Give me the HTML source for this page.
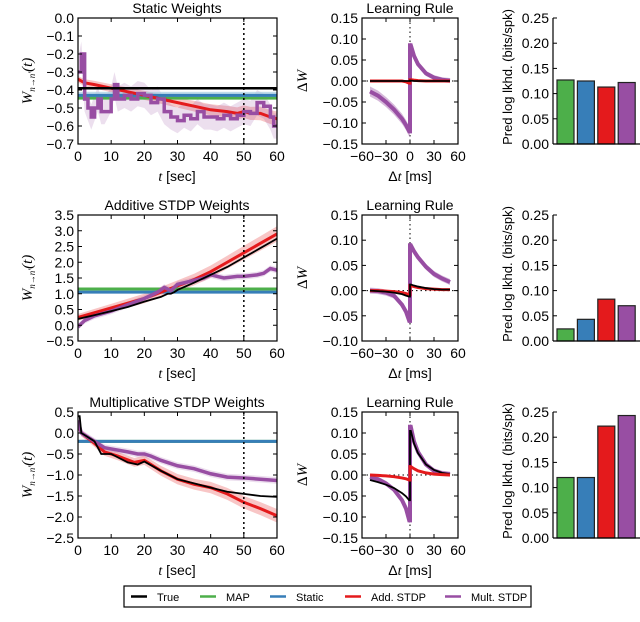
<!DOCTYPE html>
<html><head><meta charset="utf-8"><style>
body{margin:0;background:#fff;}
svg{display:block;font-family:"Liberation Sans",sans-serif;}
</style></head><body>
<svg id="fig" width="640" height="622" viewBox="0 0 640 622"></svg>
<script>
// ---- data ----
const bandTicks=[0,10,20,30,40,50,60];
const rowTitles=["Static Weights","Additive STDP Weights","Multiplicative STDP Weights"];
const wTicks1=[0.0,-0.1,-0.2,-0.3,-0.4,-0.5,-0.6,-0.7];
const wTicks2=[3.5,3.0,2.5,2.0,1.5,1.0,0.5,0.0,-0.5];
const wTicks3=[0.5,0.0,-0.5,-1.0,-1.5,-2.0,-2.5];
// row1
const r1TrueT=[0,60], r1TrueV=[-0.39,-0.39];
const r1Map=-0.445, r1Static=-0.43;
const r1RedT=[0,2,5,10,15,20,25,30,35,40,45,48,50,52,55,58,60];
const r1RedV=[-0.34,-0.36,-0.37,-0.39,-0.41,-0.43,-0.45,-0.47,-0.49,-0.51,-0.52,-0.53,-0.52,-0.53,-0.53,-0.55,-0.56];
const r1PurT=[0,1,2,3,4,5,6,7,8,10,11,12,14,16,18,20,22,24,26,28,30,32,34,36,38,40,42,44,46,48,50,52,54,56,58,59,60];
const r1PurV=[-0.3,-0.2,-0.45,-0.5,-0.55,-0.5,-0.45,-0.52,-0.52,-0.45,-0.37,-0.45,-0.43,-0.45,-0.42,-0.43,-0.47,-0.45,-0.52,-0.55,-0.57,-0.54,-0.56,-0.52,-0.55,-0.55,-0.56,-0.54,-0.56,-0.54,-0.52,-0.53,-0.47,-0.49,-0.55,-0.6,-0.6];
// row2
const r2TrueT=[0,5,10,15,20,25,27,28,29,30,35,40,45,50,55,60];
const r2TrueV=[0.2,0.32,0.45,0.58,0.75,0.9,1.0,1.0,1.05,1.12,1.35,1.6,1.85,2.15,2.45,2.75];
const r2Map=1.15, r2Static=1.05;
const r2RedT=[0,5,10,15,20,25,30,35,40,45,50,55,60];
const r2RedV=[0.25,0.4,0.55,0.7,0.85,1.05,1.25,1.45,1.7,2.0,2.3,2.6,2.9];
const r2PurT=[0,2,5,10,15,20,24,26,28,30,34,38,40,42,44,48,50,54,56,58,60];
const r2PurV=[-0.05,0.15,0.3,0.45,0.65,0.85,1.05,1.2,1.1,1.3,1.4,1.5,1.6,1.55,1.5,1.55,1.55,1.6,1.65,1.8,1.75];
// row3
const r3TrueT=[0,0.5,1,5,7,10,15,18,20,25,30,35,40,45,50,55,60];
const r3TrueV=[0.4,0.4,0.0,-0.2,-0.5,-0.5,-0.7,-0.75,-0.68,-0.9,-1.1,-1.2,-1.3,-1.4,-1.45,-1.5,-1.52];
const r3Map=-0.2, r3Static=-0.2;
const r3RedT=[0,1,5,8,12,17,20,25,30,35,40,45,50,55,60];
const r3RedV=[0.2,0.0,-0.25,-0.45,-0.55,-0.7,-0.65,-0.9,-1.1,-1.22,-1.3,-1.45,-1.65,-1.8,-1.97];
const r3PurT=[0,1,5,8,10,15,18,20,22,25,30,35,40,45,50,55,60];
const r3PurV=[0.3,0.0,-0.2,-0.35,-0.38,-0.45,-0.5,-0.5,-0.55,-0.65,-0.78,-0.85,-0.97,-1.05,-1.07,-1.1,-1.13];
// learning rules
const dtNeg=[-50,-40,-30,-20,-10,-5,-1];
const dtPos=[1,5,10,20,30,40,50];
const lr1PurNeg=[-0.025,-0.035,-0.05,-0.068,-0.09,-0.105,-0.12], lr1PurPos=[0.085,0.06,0.04,0.018,0.008,0.003,0.001];
const lr1RedNeg=[0,0,0,0,0,-0.002,-0.005], lr1RedPos=[0.003,0.002,0.001,0,0,0,0];
const lr1TrueNeg=[0,0,0,0,0,0,0], lr1TruePos=[0.001,0,0,0,0,0,0];
const lr2PurNeg=[0,-0.001,-0.004,-0.01,-0.028,-0.042,-0.06], lr2PurPos=[0.09,0.078,0.066,0.047,0.033,0.024,0.017];
const lr2RedNeg=[0,0,-0.001,-0.002,-0.004,-0.006,-0.008], lr2RedPos=[0.01,0.008,0.006,0.004,0.003,0.002,0.002];
const lr2TrueNeg=[0,-0.001,-0.002,-0.004,-0.007,-0.01,-0.012], lr2TruePos=[0.012,0.01,0.008,0.005,0.003,0.002,0.002];
const lr3PurNeg=[-0.005,-0.01,-0.02,-0.035,-0.06,-0.08,-0.108], lr3PurPos=[0.115,0.08,0.055,0.025,0.01,0.004,0.002];
const lr3RedNeg=[0,-0.001,-0.002,-0.004,-0.007,-0.009,-0.012], lr3RedPos=[0.02,0.015,0.01,0.005,0.002,0.001,0];
const lr3TrueNeg=[-0.012,-0.017,-0.023,-0.031,-0.043,-0.051,-0.06], lr3TruePos=[0.105,0.075,0.052,0.025,0.012,0.005,0.002];
const barCats=["MAP","Static","Add. STDP","Mult. STDP"];
const bars1=[0.127,0.125,0.113,0.122];
const bars2=[0.024,0.043,0.083,0.07];
const bars3=[0.12,0.12,0.222,0.243];
const barTicks=[0.00,0.05,0.10,0.15,0.20,0.25];
const lrTicks13=[0.15,0.10,0.05,0.00,-0.05,-0.10,-0.15];
const lrTicks2=[0.15,0.10,0.05,0.00,-0.05,-0.10];
const lrXTicks=[-60,-30,0,30,60];

const C={true:"#000",map:"#4daf4a",stat:"#377eb8",add:"#e41a1c",mult:"#984ea3"};
const FS=14;
const svg=document.getElementById('fig');
const NS="http://www.w3.org/2000/svg";
function el(tag,attrs,parent){const e=document.createElementNS(NS,tag);for(const k in attrs)e.setAttribute(k,attrs[k]);(parent||svg).appendChild(e);return e;}
function txt(s,attrs,parent){const e=el('text',attrs,parent);e.textContent=s;return e;}
function lin(d0,d1,r0,r1){return v=>r0+(v-d0)*(r1-r0)/(d1-d0);}
function path(xs,ys,sx,sy,step){let d="";for(let i=0;i<xs.length;i++){const X=sx(xs[i]),Y=sy(ys[i]);if(i==0)d+="M"+X+","+Y;else if(step)d+="H"+X+"V"+Y;else d+="L"+X+","+Y;}return d;}
function band(xs,ys,w,sx,sy){let d="";for(let i=0;i<xs.length;i++)d+=(i?"L":"M")+sx(xs[i])+","+sy(ys[i]+w(i));for(let i=xs.length-1;i>=0;i--)d+="L"+sx(xs[i])+","+sy(ys[i]-w(i));return d+"Z";}

const tops=[18,215,412], H=126;
const wData=[
 {ticks:wTicks1,min:-0.7,max:0.0,tT:r1TrueT,tV:r1TrueV,map:r1Map,st:r1Static,rT:r1RedT,rV:r1RedV,pT:r1PurT,pV:r1PurV,rb:0.03,pb:0.07,stb:0.02,step:true},
 {ticks:wTicks2,min:-0.5,max:3.5,tT:r2TrueT,tV:r2TrueV,map:r2Map,st:r2Static,rT:r2RedT,rV:r2RedV,pT:r2PurT,pV:r2PurV,rb:0.18,pb:0.1,stb:0,step:false},
 {ticks:wTicks3,min:-2.5,max:0.5,tT:r3TrueT,tV:r3TrueV,map:r3Map,st:r3Static,rT:r3RedT,rV:r3RedV,pT:r3PurT,pV:r3PurV,rb:0.12,pb:0.08,stb:0,step:false}
];
const lrData=[
 {min:-0.15,max:0.15,ticks:lrTicks13,pN:lr1PurNeg,pP:lr1PurPos,rN:lr1RedNeg,rP:lr1RedPos,tN:lr1TrueNeg,tP:lr1TruePos},
 {min:-0.10,max:0.15,ticks:lrTicks2,pN:lr2PurNeg,pP:lr2PurPos,rN:lr2RedNeg,rP:lr2RedPos,tN:lr2TrueNeg,tP:lr2TruePos},
 {min:-0.15,max:0.15,ticks:lrTicks13,pN:lr3PurNeg,pP:lr3PurPos,rN:lr3RedNeg,rP:lr3RedPos,tN:lr3TrueNeg,tP:lr3TruePos}
];
const barData=[bars1,bars2,bars3];

function fmt(v,d){return v.toFixed(d).replace('-','\u2212');}

for(let r=0;r<3;r++){
 const top=tops[r],bot=top+H;
 const D=wData[r];
 const g=el('g',{},svg);
 
 
 const sx=lin(0,60,78,277), sy=lin(D.min,D.max,bot,top);
 const t=txt(rowTitles[r],{x:177,y:top-5,'text-anchor':'middle','font-size':FS},g);
 
 const cp='clip'+r;
 const cpe=el('clipPath',{id:cp},g);el('rect',{x:78,y:top,width:199,height:H},cpe);
 const pg=el('g',{'clip-path':'url(#'+cp+')'},g);
 const rb=D.rb, pb=D.pb;
 let e=el('path',{d:band(D.rT,D.rV,i=>rb*(0.6+0.8*i/D.rT.length),sx,sy),fill:C.add,opacity:0.25},pg);
 
 e=el('path',{d:band(D.pT,D.pV,i=>pb,sx,sy),fill:C.mult,opacity:0.18},pg);
 
 if(D.stb){e=el('rect',{x:78,y:sy(D.st+D.stb),width:199,height:sy(D.st-D.stb)-sy(D.st+D.stb),fill:"#a6cee3",opacity:0.7},pg);
  }
 e=el('line',{x1:78,x2:277,y1:sy(D.map),y2:sy(D.map),stroke:C.map,'stroke-width':3},pg);
 
 e=el('line',{x1:78,x2:277,y1:sy(D.st),y2:sy(D.st),stroke:C.stat,'stroke-width':3},pg);
 
 e=el('path',{d:path(D.rT,D.rV,sx,sy,false),fill:'none',stroke:C.add,'stroke-width':3},pg);
 
 e=el('path',{d:path(D.pT,D.pV,sx,sy,D.step),fill:'none',stroke:C.mult,'stroke-width':3.5},pg);
 
 e=el('path',{d:path(D.tT,D.tV,sx,sy,false),fill:'none',stroke:C.true,'stroke-width':r==0?2.5:1.8},pg);
 
 e=el('line',{x1:sx(50),x2:sx(50),y1:top,y2:bot,stroke:'#000','stroke-width':1.5,'stroke-dasharray':'2,3'},g);
 
 e=el('rect',{x:78,y:top,width:199,height:H,fill:'none',stroke:'#000','stroke-width':1.2},g);
 
 for(const v of bandTicks){const X=sx(v);
  el('line',{x1:X,x2:X,y1:bot,y2:bot-4,stroke:'#000'},g);el('line',{x1:X,x2:X,y1:top,y2:top+4,stroke:'#000'},g);
  txt(String(v),{x:X,y:bot+17,'text-anchor':'middle','font-size':FS},g);}
 for(const v of D.ticks){const Y=sy(v);
  el('line',{x1:78,x2:82,y1:Y,y2:Y,stroke:'#000'},g);el('line',{x1:277,x2:273,y1:Y,y2:Y,stroke:'#000'},g);
  txt(fmt(v,1),{x:74,y:Y+5,'text-anchor':'end','font-size':FS},g);}
 e=txt('',{x:177,y:bot+37,'text-anchor':'middle','font-size':FS},g);
 e.innerHTML='<tspan font-family="Liberation Serif" font-style="italic">t</tspan> [sec]';
 
 e=txt('',{transform:`translate(32,${top+H/2}) rotate(-90)`,'text-anchor':'middle','font-size':15,'font-family':'Liberation Serif','font-style':'italic'},g);
 e.innerHTML='W<tspan font-size="9" dy="3">n→n\'</tspan><tspan dy="-3">(t)</tspan>';
 

 const L=lrData[r];
 const g2=el('g',{},svg);
 
 
 const lx=lin(-60,60,362,458), ly=lin(L.min,L.max,bot,top);
 txt("Learning Rule",{x:410,y:top-5,'text-anchor':'middle','font-size':FS},g2);
 el('line',{x1:362,x2:458,y1:ly(0),y2:ly(0),stroke:'#000','stroke-dasharray':'1.5,3'},g2);
 el('line',{x1:lx(0),x2:lx(0),y1:top,y2:bot,stroke:'#000','stroke-dasharray':'1.5,3'},g2);
 const series=[[L.pN,L.pP,C.mult,4,'mult-stdp-rule'],[L.rN,L.rP,C.add,3,'add-stdp-rule'],[L.tN,L.tP,C.true,1.8,'true-rule']];
 if(r==2){series.splice(1,1);series.push([L.rN,L.rP,C.add,3,'add-stdp-rule']);}
 for(const s of series){
  const xs=dtNeg.concat([0,0]).concat(dtPos), ys=s[0].concat([s[0][s[0].length-1],s[1][0]]).concat(s[1]);
  if(s[2]==C.mult){const b=el('path',{d:band(xs,ys,i=>r==0&&i<8?0.012:0.006,lx,ly),fill:C.mult,opacity:0.4},g2);
   }
  const p=el('path',{d:path(xs,ys,lx,ly,false),fill:'none',stroke:s[2],'stroke-width':s[3]},g2);
  
 }
 el('rect',{x:362,y:top,width:96,height:H,fill:'none',stroke:'#000','stroke-width':1.2},g2);
 for(const v of lrXTicks){const X=lx(v);
  el('line',{x1:X,x2:X,y1:bot,y2:bot-4,stroke:'#000'},g2);el('line',{x1:X,x2:X,y1:top,y2:top+4,stroke:'#000'},g2);
  txt(v<0?'\u2212'+(-v):String(v),{x:X,y:bot+17,'text-anchor':'middle','font-size':FS},g2);}
 for(const v of L.ticks){const Y=ly(v);
  el('line',{x1:362,x2:366,y1:Y,y2:Y,stroke:'#000'},g2);el('line',{x1:458,x2:454,y1:Y,y2:Y,stroke:'#000'},g2);
  txt(fmt(v,2),{x:358,y:Y+5,'text-anchor':'end','font-size':FS},g2);}
 e=txt('',{x:410,y:bot+37,'text-anchor':'middle','font-size':FS},g2);
 e.innerHTML='Δ<tspan font-family="Liberation Serif" font-style="italic">t</tspan> [ms]';
 
 e=txt('',{transform:`translate(307,${top+H/2}) rotate(-90)`,'text-anchor':'middle','font-size':15,'font-family':'Liberation Serif'},g2);
 e.innerHTML='Δ<tspan font-style="italic">W</tspan>';
 

 const B=barData[r];
 const g3=el('g',{},svg);
 
 
 const by=lin(0,0.25,bot,top);
 const bc=[C.map,C.stat,C.add,C.mult];
 for(let i=0;i<B.length;i++){
  const b=el('rect',{x:557+i*20.4,y:by(B[i]),width:17,height:bot-by(B[i]),fill:bc[i],stroke:'#222','stroke-width':1.2},g3);
  
  
 }
 el('line',{x1:553,x2:553,y1:top,y2:bot,stroke:'#000','stroke-width':1.2},g3);
 el('line',{x1:553,x2:640,y1:bot,y2:bot,stroke:'#000','stroke-width':1.2},g3);
 for(const v of barTicks){const Y=by(v);
  el('line',{x1:553,x2:557,y1:Y,y2:Y,stroke:'#000'},g3);
  txt(v.toFixed(2),{x:549,y:Y+5,'text-anchor':'end','font-size':FS},g3);}
 e=txt('Pred log lkhd. (bits/spk)',{transform:`translate(512,${top+H/2-4}) rotate(-90)`,'text-anchor':'middle','font-size':13},g3);
 
}

const lg=el('g',{},svg);


el('rect',{x:124,y:586,width:407,height:21,fill:'#fff',stroke:'#000','stroke-width':1.2},lg);
const legNames=["True","MAP","Static","Add. STDP","Mult. STDP"];
const legX=[131,200,270,345,445];
const legC=[C.true,C.map,C.stat,C.add,C.mult];
for(let i=0;i<5;i++){
 const it=el('g',{},lg);
 
 
 el('line',{x1:legX[i],x2:legX[i]+16,y1:596.5,y2:596.5,stroke:legC[i],'stroke-width':2.5},it);
 txt(legNames[i],{x:legX[i]+26,y:601,'font-size':11},it);
}
</script>
</body></html>
